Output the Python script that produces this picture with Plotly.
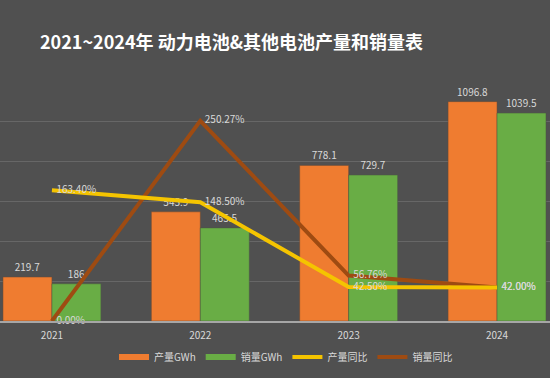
import plotly.graph_objects as go

years = ["2021", "2022", "2023", "2024"]
production = [219.7, 545.9, 778.1, 1096.8]
sales = [186, 465.5, 729.7, 1039.5]
prod_yoy = [163.40, 148.50, 42.50, 42.00]
sales_yoy = [0.00, 250.27, 56.76, 42.00]

font_fam = "Noto Sans CJK SC, Noto Sans, sans-serif"
label_col = "#d9d9d9"
orange = "#ef7c30"
green = "#69ad45"
yellow = "#f5c400"
brown = "#9e4b12"
pad = "\u00a0\u00a0"

fig = go.Figure()
fig.add_trace(go.Bar(
    x=years, y=production, name="产量GWh", showlegend=False,
    marker=dict(color=orange, line=dict(color="#6a4a35", width=0.5)),
    text=[f"{v:g}" for v in production], textposition="outside",
    textfont=dict(color=label_col, size=10, family=font_fam), cliponaxis=False,
))
fig.add_trace(go.Bar(
    x=years, y=sales, name="销量GWh", showlegend=False,
    marker=dict(color=green, line=dict(color="#4a5a40", width=0.5)),
    text=[f"{v:g}" for v in sales], textposition="outside",
    textfont=dict(color=label_col, size=10, family=font_fam), cliponaxis=False,
))
fig.add_trace(go.Scatter(
    x=years, y=sales_yoy, name="销量同比", yaxis="y2", mode="lines+text",
    line=dict(color=brown, width=4),
    text=[f"{pad}{v:.2f}%" for v in sales_yoy], textposition="middle right",
    textfont=dict(color=label_col, size=10, family=font_fam), cliponaxis=False,
    legendrank=4,
))
fig.add_trace(go.Scatter(
    x=years, y=prod_yoy, name="产量同比", yaxis="y2", mode="lines+text",
    line=dict(color=yellow, width=4),
    text=[f"{pad}{v:.2f}%" for v in prod_yoy], textposition="middle right",
    textfont=dict(color=label_col, size=10, family=font_fam), cliponaxis=False,
    legendrank=3,
))
# legend-only swatches for the bar series (wide flat rectangles as in the reference)
fig.add_trace(go.Scatter(x=[None], y=[None], mode="lines", name="产量GWh",
                         line=dict(color=orange, width=6), legendrank=1))
fig.add_trace(go.Scatter(x=[None], y=[None], mode="lines", name="销量GWh",
                         line=dict(color=green, width=6), legendrank=2))

fig.update_layout(
    width=550, height=378,
    margin=dict(l=0, r=0, t=81, b=57, autoexpand=False),
    paper_bgcolor="#505050", plot_bgcolor="#505050",
    font=dict(family=font_fam, color=label_col),
    title=dict(text="<b>2021~2024年 动力电池&其他电池产量和销量表</b>",
               x=40/550, xanchor="left", xref="container",
               y=1-43/378, yanchor="middle", yref="container",
               font=dict(size=18, color="#ffffff", family=font_fam)),
    barmode="group", bargap=0.34, bargroupgap=0,
    xaxis=dict(type="category", range=[-0.35, 3.357], showgrid=False,
               showline=True, linecolor="#a6a6a6", linewidth=1.5,
               ticks="", ticklabelstandoff=4,
               tickfont=dict(size=10, color=label_col), automargin=False),
    yaxis=dict(range=[0, 1200], dtick=200, showgrid=True, gridcolor="#676767",
               gridwidth=1, showticklabels=False, zeroline=False, automargin=False),
    yaxis2=dict(range=[0, 300], overlaying="y", side="right", showgrid=False,
                showticklabels=False, zeroline=False, automargin=False),
    legend=dict(orientation="h", x=0.52, xanchor="center", y=-0.09, yanchor="top",
                font=dict(size=10, color=label_col), bgcolor="rgba(0,0,0,0)",
                traceorder="normal", itemwidth=30),
    showlegend=True,
)

fig.write_html("out.html", config={"displayModeBar": False},
               post_script="document.body.style.margin='0';document.body.style.overflow='hidden';")
